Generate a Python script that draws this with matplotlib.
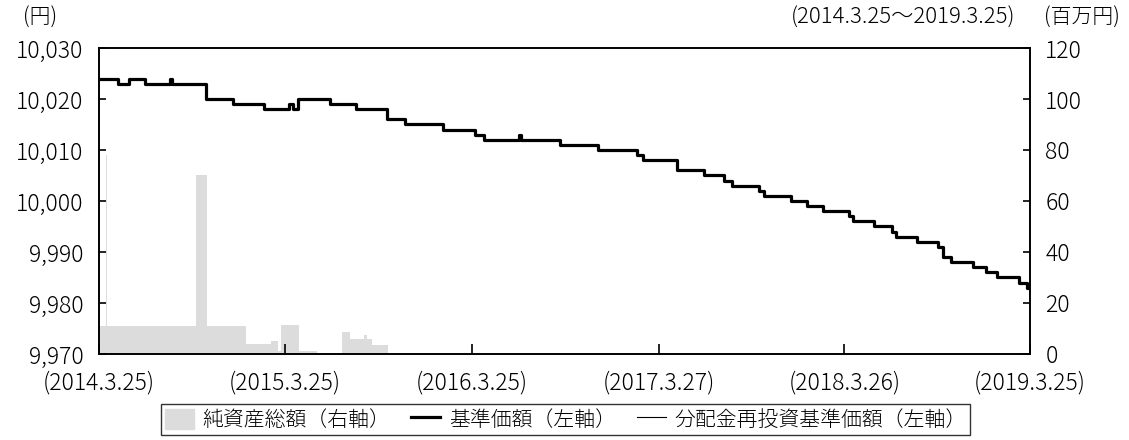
import matplotlib
matplotlib.use("Agg")
import matplotlib.pyplot as plt
import matplotlib.patches as mpatches
import matplotlib.lines as mlines
import pandas as pd

plt.rcParams['font.family'] = ['Noto Sans CJK JP', 'DejaVu Sans']
plt.rcParams['font.weight'] = 'light'

# 基準価額 (step changes: date, yen)
price_dates = ['2014-03-25', '2014-05-01', '2014-05-23', '2014-06-23', '2014-08-11', '2014-08-15',
               '2014-10-21', '2014-12-13', '2015-02-12', '2015-04-02', '2015-04-09', '2015-04-19',
               '2015-06-21', '2015-08-11', '2015-10-11', '2015-11-15', '2016-01-29', '2016-03-31',
               '2016-04-18', '2016-06-26', '2016-06-30', '2016-09-14', '2016-11-28', '2017-02-12',
               '2017-02-24', '2017-05-02', '2017-06-24', '2017-08-02', '2017-08-18', '2017-10-09',
               '2017-10-19', '2017-12-11', '2018-01-12', '2018-02-12', '2018-04-04', '2018-04-12',
               '2018-05-23', '2018-06-27', '2018-07-05', '2018-08-15', '2018-09-26', '2018-10-05',
               '2018-10-21', '2018-12-03', '2018-12-28', '2019-01-19', '2019-03-03', '2019-03-19',
               '2019-03-25']
price_values = [10024, 10023, 10024, 10023, 10024, 10023,
                10020, 10019, 10018, 10019, 10018, 10020,
                10019, 10018, 10016, 10015, 10014, 10013,
                10012, 10013, 10012, 10011, 10010, 10009,
                10008, 10006, 10005, 10004, 10003, 10002,
                10001, 10000, 9999, 9998, 9997, 9996,
                9995, 9994, 9993, 9992, 9991, 9989,
                9988, 9987, 9986, 9985, 9984, 9983,
                9983]
# 分配金再投資基準価額 (no distributions -> same as base price)
reinvest_values = list(price_values)

# 純資産総額 (step changes: date, million yen)
nav_dates = ['2014-03-25', '2014-04-07', '2014-04-09', '2014-10-01', '2014-10-23', '2015-01-07',
             '2015-02-25', '2015-03-11', '2015-03-17', '2015-04-21', '2015-05-27', '2015-07-15',
             '2015-07-30', '2015-08-27', '2015-09-02', '2015-09-11', '2015-10-13', '2019-03-25']
nav_values = [11, 78, 11, 70, 11, 4,
              5, 1.3, 11.4, 1.3, 0.4, 8.6,
              6, 7.4, 6, 3.5, 0, 0]

tick_dates = ['2014-03-25', '2015-03-25', '2016-03-25', '2017-03-27', '2018-03-26', '2019-03-25']
tick_labels = ['(2014.3.25)', '(2015.3.25)', '(2016.3.25)', '(2017.3.27)', '(2018.3.26)', '(2019.3.25)']

fig = plt.figure(figsize=(11.29, 4.40), dpi=100)
ax = fig.add_axes([0.0877, 0.1955, 0.8246, 0.6954])
ax2 = ax.twinx()
ax.set_zorder(ax2.get_zorder() + 1)
ax.patch.set_visible(False)

nd = pd.to_datetime(nav_dates)
ax2.fill_between(nd, 0, nav_values, step='post', color='#dcdcdc', linewidth=0)
ax2.set_ylim(0, 120)
ax2.set_yticks(range(0, 121, 20))

pd_ = pd.to_datetime(price_dates)
ax.step(pd_, price_values, where='post', color='black', lw=2.3)
ax.step(pd_, reinvest_values, where='post', color='black', lw=0.8)
ax.set_ylim(9970, 10030)
ax.set_yticks(range(9970, 10031, 10))
ax.yaxis.set_major_formatter(plt.FuncFormatter(lambda v, _: f'{v:,.0f}'))
ax.set_xlim(pd.Timestamp('2014-03-25'), pd.Timestamp('2019-03-25'))
ax.set_xticks(pd.to_datetime(tick_dates))
ax.set_xticklabels(tick_labels)

for a in (ax, ax2):
    for s in a.spines.values():
        s.set_linewidth(1.2)
ax.tick_params(axis='y', direction='in', length=5, width=1.2, labelsize=16.5, pad=11)
ax.tick_params(axis='x', direction='in', length=7, width=1.2, labelsize=16.5, pad=12)
ax2.tick_params(axis='y', direction='in', length=5, width=1.2, labelsize=16.5, pad=11)

fig.text(0.02, 0.935, '(円)', fontsize=15, ha='left', va='bottom')
fig.text(0.899, 0.935, '(2014.3.25～2019.3.25)', fontsize=16, ha='right', va='bottom')
fig.text(0.925, 0.935, '(百万円)', fontsize=15, ha='left', va='bottom')

handles = [mpatches.Patch(color='#dcdcdc'),
           mlines.Line2D([], [], color='black', lw=2.3),
           mlines.Line2D([], [], color='black', lw=0.8)]
labels = ['純資産総額（右軸）', '基準価額（左軸）', '分配金再投資基準価額（左軸）']
leg = fig.legend(handles, labels, loc='lower center', bbox_to_anchor=(0.501, -0.012), ncol=3,
                 fontsize=15, frameon=True, fancybox=False, edgecolor='black',
                 handlelength=1.4, handleheight=1.1, handletextpad=0.4, columnspacing=1.0,
                 borderpad=0.2)
leg.get_frame().set_linewidth(1.0)

fig.savefig('out.png', dpi=100)
